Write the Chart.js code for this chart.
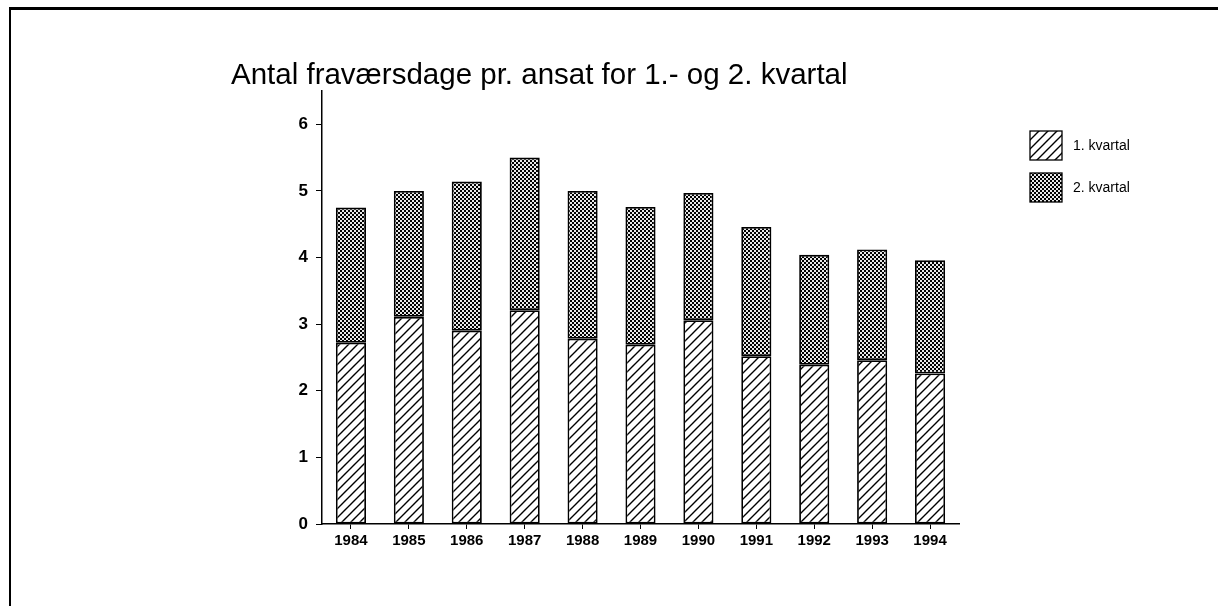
<!DOCTYPE html>
<html lang="da">
<head>
  <meta charset="UTF-8">
  <title>Antal fraværsdage pr. ansat</title>
  <script src="https://cdn.jsdelivr.net/npm/chart.js@4.4.0"></script>
  <style>
    body {
      margin: 0;
      background: #fff;
    }
    .wrap {
      position: relative;
      width: 1218px;
      height: 606px;
    }
  </style>
</head>
<body>
  <div class="wrap">
    <canvas id="chart" width="1218" height="606"></canvas>
  </div>

  <script>
    const title = 'Antal fraværsdage pr. ansat for 1.- og 2. kvartal';
    const years = ['1984', '1985', '1986', '1987', '1988', '1989', '1990', '1991', '1992', '1993', '1994'];
    const kvartal1 = [2.72, 3.11, 2.90, 3.21, 2.78, 2.69, 3.06, 2.52, 2.39, 2.46, 2.26];
    const kvartal2 = [2.03, 1.89, 2.24, 2.29, 2.22, 2.07, 1.91, 1.94, 1.65, 1.66, 1.70];
    const seriesNames = ['1. kvartal', '2. kvartal'];
    const yTicks = [0, 1, 2, 3, 4, 5, 6];

    // hatch "/" for 1. kvartal
    function hatchPattern() {
      const c = document.createElement('canvas');
      c.width = 9; c.height = 9;
      const g = c.getContext('2d');
      g.fillStyle = '#fff';
      g.fillRect(0, 0, 9, 9);
      g.strokeStyle = '#000';
      g.lineWidth = 1.4;
      g.beginPath();
      g.moveTo(-1, 10); g.lineTo(10, -1);
      g.moveTo(-2, 2); g.lineTo(2, -2);
      g.moveTo(7, 11); g.lineTo(11, 7);
      g.stroke();
      return g.createPattern(c, 'repeat');
    }

    // dense crosshatch for 2. kvartal
    function crossPattern() {
      const c = document.createElement('canvas');
      c.width = 4; c.height = 4;
      const g = c.getContext('2d');
      g.fillStyle = '#000';
      g.fillRect(0, 0, 4, 4);
      g.fillStyle = '#e8e8e8';
      g.fillRect(0, 0, 2, 2);
      g.fillRect(2, 2, 2, 2);
      return g.createPattern(c, 'repeat');
    }

    const frameAndText = {
      id: 'frameAndText',
      afterDraw(chart) {
        const ctx = chart.ctx;
        ctx.save();
        // scanned frame: top and left edge
        ctx.fillStyle = '#000';
        ctx.fillRect(9, 7, 1209, 3);
        ctx.fillRect(9, 7, 2, 599);

        // title, fitted to the width seen in the reference
        ctx.font = '100px "Liberation Sans", Arial, sans-serif';
        const size = 100 * 617 / ctx.measureText(title).width;
        ctx.font = size.toFixed(1) + 'px "Liberation Sans", Arial, sans-serif';
        ctx.textBaseline = 'alphabetic';
        ctx.textAlign = 'left';
        ctx.fillText(title, 231, 84);

        // legend
        ctx.font = '14px "Liberation Sans", Arial, sans-serif';
        ctx.textBaseline = 'middle';
        chart.data.datasets.forEach((ds, i) => {
          const top = 131 + i * 42;
          ctx.fillStyle = ds.backgroundColor;
          ctx.fillRect(1030, top, 32, 29);
          ctx.strokeStyle = '#000';
          ctx.lineWidth = 1.3;
          ctx.strokeRect(1030, top, 32, 29);
          ctx.fillStyle = '#000';
          ctx.fillText(ds.label, 1073, top + 15);
        });
        ctx.restore();
      }
    };

    new Chart(document.getElementById('chart'), {
      type: 'bar',
      data: {
        labels: years,
        datasets: [
          {
            label: seriesNames[0],
            data: kvartal1,
            backgroundColor: hatchPattern(),
            borderColor: '#000',
            borderWidth: 1.8,
            borderSkipped: false
          },
          {
            label: seriesNames[1],
            data: kvartal2,
            backgroundColor: crossPattern(),
            borderColor: '#000',
            borderWidth: 1.8,
            borderSkipped: false
          }
        ]
      },
      options: {
        responsive: false,
        animation: false,
        events: [],
        layout: {
          padding: { left: 282, right: 259, top: 91, bottom: 52 }
        },
        datasets: {
          bar: { categoryPercentage: 1, barPercentage: 0.52 }
        },
        plugins: {
          legend: { display: false },
          title: { display: false },
          tooltip: { enabled: false }
        },
        scales: {
          x: {
            stacked: true,
            offset: true,
            grid: {
              offset: false,
              drawOnChartArea: false,
              drawTicks: true,
              tickLength: 5,
              color: '#000',
              lineWidth: 1
            },
            border: { display: true, color: '#000', width: 1.5 },
            ticks: {
              color: '#000',
              padding: 3,
              maxRotation: 0,
              font: { family: '"Liberation Sans", Arial, sans-serif', size: 15, weight: 'bold' }
            },
            afterFit(axis) { axis.height = 30; }
          },
          y: {
            stacked: true,
            min: 0,
            max: 6.5,
            grid: {
              drawOnChartArea: false,
              drawTicks: true,
              tickLength: 6,
              color: '#000',
              lineWidth: 1
            },
            border: { display: true, color: '#000', width: 1.5 },
            ticks: {
              stepSize: 1,
              color: '#000',
              padding: 8,
              font: { family: '"Liberation Sans", Arial, sans-serif', size: 17, weight: 'bold' }
            },
            afterBuildTicks(axis) {
              axis.ticks = yTicks.map(v => ({ value: v }));
            },
            afterFit(axis) { axis.width = 40; }
          }
        }
      },
      plugins: [frameAndText]
    });
  </script>
</body>
</html>
